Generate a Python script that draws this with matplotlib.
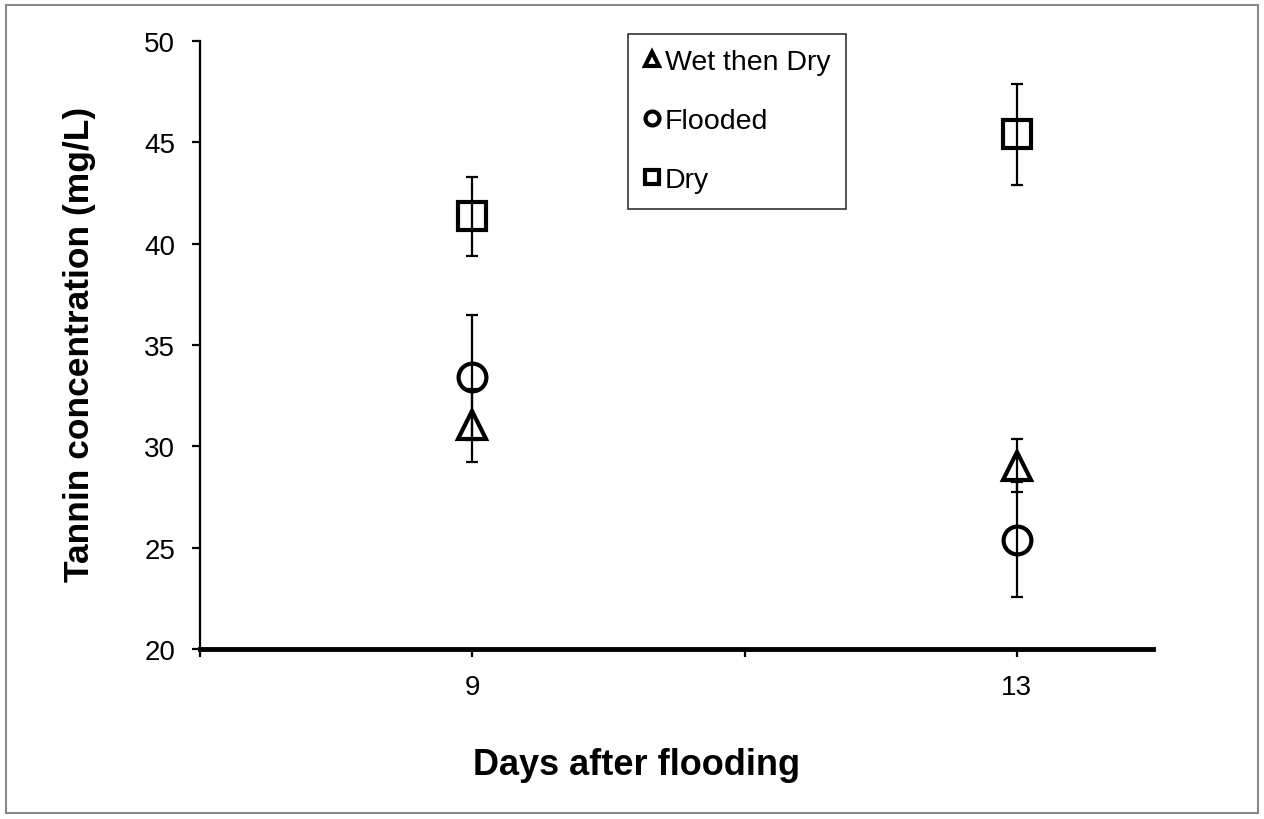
import matplotlib.pyplot as plt
from matplotlib.patches import Rectangle

plt.rcParams['font.family'] = ['Liberation Sans', 'DejaVu Sans']

# data
days = [9, 13]
wet_dry = [31.05, 29.05]
wet_dry_err = [1.8, 1.3]
flooded = [33.4, 25.4]
flooded_err = [3.1, 2.85]
dry = [41.35, 45.4]
dry_err = [1.95, 2.5]

fig = plt.figure(figsize=(12.64, 8.2), dpi=100)
ax = fig.add_axes([200 / 1264, 1 - 650 / 820, 953 / 1264, 608 / 820])

# grey frame round the whole figure
fig.patches.append(Rectangle((6 / 1264, 6 / 820), 1252 / 1264, 808 / 820,
                             transform=fig.transFigure, fill=False,
                             edgecolor='#888888', linewidth=1.5))

series = [
    (wet_dry, wet_dry_err, '^', 'Wet then Dry'),
    (flooded, flooded_err, 'o', 'Flooded'),
    (dry, dry_err, 's', 'Dry'),
]
handles = []
for vals, errs, mk, lab in series:
    ax.errorbar(days, vals, yerr=errs, fmt='none', ecolor='black',
                elinewidth=1.6, capsize=4.5, capthick=1.6, zorder=2)
    h, = ax.plot(days, vals, linestyle='none', marker=mk, markersize=20,
                 markerfacecolor='none', markeredgecolor='black',
                 markeredgewidth=3, label=lab, zorder=3)
    handles.append(h)

ax.set_xlim(7, 14)
ax.set_ylim(20, 50)
ax.set_xticks([7, 9, 11, 13])
ax.set_xticklabels(['', '9', '', '13'])
ax.set_yticks([20, 25, 30, 35, 40, 45, 50])

ax.spines['top'].set_visible(False)
ax.spines['right'].set_visible(False)
ax.spines['left'].set_linewidth(1.6)
ax.spines['bottom'].set_linewidth(3.5)
ax.tick_params(axis='both', direction='out', length=6, width=1.6,
               labelsize=20, colors='black')
ax.tick_params(axis='x', pad=12)
ax.tick_params(axis='y', pad=12)

fig.text(637 / 1264, 1 - 766 / 820, 'Days after flooding', fontsize=26,
         fontweight='bold', ha='center', va='center')
fig.text(80 / 1264, 1 - 344 / 820, 'Tannin concentration (mg/L)', fontsize=25.5,
         fontweight='bold', ha='center', va='center', rotation=90)

leg = ax.legend(handles=handles, loc='upper left', bbox_to_anchor=(428 / 953, 1.012),
                fontsize=20.5, markerscale=0.5, handlelength=0.6, handletextpad=0.15,
                labelspacing=1.15, borderpad=0.55, frameon=True, fancybox=False,
                edgecolor='black', borderaxespad=0)
leg.get_frame().set_linewidth(1.2)
for lh in leg.legend_handles:
    lh.set_markeredgewidth(3)

fig.savefig('out.png', dpi=100)
